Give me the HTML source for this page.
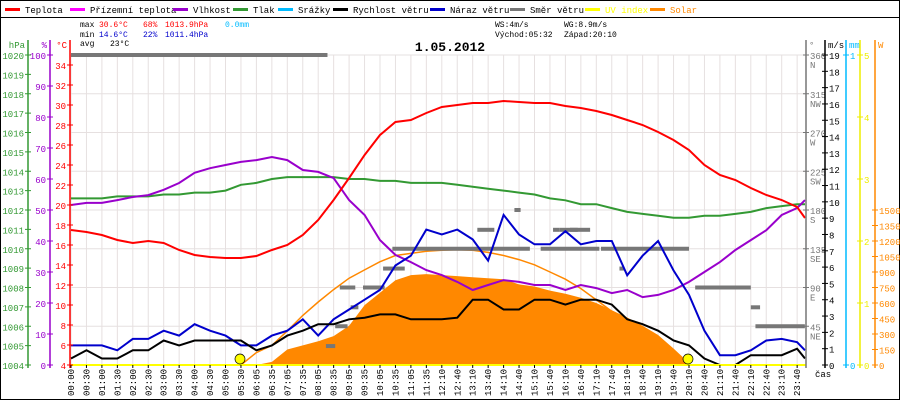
<!DOCTYPE html>
<html><head><meta charset="utf-8">
<style>
body{margin:0;background:#fff;}
svg{display:block;font-family:"Liberation Mono","DejaVu Sans Mono",monospace;font-size:8px;}
</style></head>
<body>
<svg id="c" width="900" height="400" viewBox="0 0 900 400">
<rect x="0.5" y="0.5" width="899" height="399" fill="#fff" stroke="#000"/>
<line x1="0" y1="17.5" x2="900" y2="17.5" stroke="#000"/>
<g id="legend"></g>
<g>
<text x="80" y="27" fill="#000">max</text><text x="99" y="27" fill="#f00">30.6°C</text><text x="143" y="27" fill="#f00">68%</text><text x="165" y="27" fill="#f00">1013.9hPa</text><text x="225" y="27" fill="#0bf">0.0mm</text>
<text x="80" y="37" fill="#000">min</text><text x="99" y="37" fill="#00c">14.6°C</text><text x="143" y="37" fill="#00c">22%</text><text x="165" y="37" fill="#00c">1011.4hPa</text>
<text x="80" y="46" fill="#000">avg</text><text x="110" y="46" fill="#000">23°C</text>
<text x="495" y="27" fill="#000">WS:4m/s</text><text x="564" y="27" fill="#000">WG:8.9m/s</text>
<text x="495" y="37" fill="#000">Východ:05:32</text><text x="564" y="37" fill="#000">Západ:20:10</text>
</g>
<text x="450" y="51" text-anchor="middle" font-weight="bold" font-size="13" fill="#000">1.05.2012</text>
<g id="grid"></g>
<g id="marks"></g>
<g id="axes"></g>
</svg>
<script>
const categories=["00:00","00:30","01:00","01:30","02:00","02:30","03:00","03:30","04:00","04:30","05:00","05:30","06:05","06:35","07:05","07:35","08:05","08:35","09:05","09:35","10:05","10:35","11:05","11:35","12:10","12:40","13:10","13:40","14:10","14:40","15:10","15:40","16:10","16:40","17:10","17:40","18:10","18:40","19:10","19:40","20:10","20:40","21:10","21:40","22:10","22:40","23:10","23:40","23:55"];
const temperature=[17.5,17.3,17.0,16.5,16.2,16.4,16.2,15.5,15.0,14.8,14.7,14.7,14.9,15.5,16.0,17.0,18.5,20.5,22.7,25.0,27.0,28.3,28.5,29.2,29.8,30.0,30.2,30.2,30.4,30.3,30.2,30.2,29.9,29.7,29.4,29.0,28.5,28.0,27.3,26.5,25.5,24.0,23.0,22.5,21.7,21.0,20.5,19.8,18.7];
const humidity=[51.6,52.3,52.3,53.2,54.2,54.8,56.5,58.7,62.0,63.5,64.5,65.5,66.1,67.1,66.1,62.9,62.3,60.3,53.2,48.4,40.3,35.5,33.2,30.6,29.0,26.8,24.2,25.8,27.4,26.8,25.8,25.8,24.2,25.8,24.8,23.2,24.2,21.9,22.6,24.2,26.8,30.0,33.2,37.1,40.3,43.5,48.4,50.6,53.2];
const pressure=[1012.6,1012.6,1012.6,1012.7,1012.7,1012.7,1012.8,1012.8,1012.9,1012.9,1013.0,1013.3,1013.4,1013.6,1013.7,1013.7,1013.7,1013.7,1013.6,1013.6,1013.5,1013.5,1013.4,1013.4,1013.4,1013.3,1013.2,1013.1,1013.0,1012.9,1012.8,1012.6,1012.5,1012.3,1012.3,1012.1,1011.9,1011.8,1011.7,1011.6,1011.6,1011.7,1011.7,1011.8,1011.9,1012.1,1012.2,1012.3,1012.3];
const windSpeed=[0.4,0.9,0.4,0.4,0.9,0.9,1.5,1.2,1.5,1.5,1.5,1.5,0.9,1.2,1.8,2.1,2.5,2.5,2.8,2.9,3.1,3.1,2.8,2.8,2.8,2.9,4.0,4.0,3.4,3.4,4.0,4.0,3.7,4.0,4.0,3.7,2.8,2.5,2.1,1.5,1.2,0.4,0,0,0.6,0.6,0.6,1.0,0.4];
const windGust=[1.2,1.2,1.2,0.9,1.6,1.6,2.1,1.8,2.5,2.1,1.8,1.2,1.2,1.8,2.1,2.8,1.8,2.8,3.4,4.0,4.6,6.1,6.7,8.3,8.0,8.3,7.7,6.4,9.2,8.0,7.4,7.4,8.2,7.4,7.6,7.6,5.5,6.7,7.6,5.8,4.3,2.1,0.6,0.6,0.9,1.5,1.6,1.4,0.9];
const solar=[0,0,0,0,0,0,0,0,0,0,0,0,0,30,150,190,230,280,380,580,700,820,870,880,870,860,850,840,830,780,760,720,690,650,600,530,460,380,290,160,20,0,0,0,0,0,0,0,0];
const solarMax=[0,0,0,0,0,0,0,0,0,0,0,0,120,190,330,480,610,730,840,920,1000,1060,1080,1100,1110,1115,1110,1090,1060,1020,970,900,830,740,630,520,400,290,180,80,0,0,0,0,0,0,0,0,0];
const dirStart=[0,16.5,17.1,18.1,17.4,18.9,20.2,20.8,26.3,28.7,31.2,32.3,30.4,34.3,31.6,35.5,40.4,44.0,44.3];
const dirEnd=[16.6,17.1,17.9,18.6,18.4,20.3,21.6,29.7,27.4,29.1,31.6,32.8,34.2,40.0,33.6,35.8,44.0,44.6,47.5];
const dirDeg=[360,22,45,67,90,90,112,135,157,180,157,157,135,135,157,112,90,67,45];
const tempTicks=[4,6,8,10,12,14,16,18,20,22,24,26,28,30,32,34];
const humTicks=[0,10,20,30,40,50,60,70,80,90,100];
const presTicks=[1004,1005,1006,1007,1008,1009,1010,1011,1012,1013,1014,1015,1016,1017,1018,1019,1020];
const speedTicks=[0,1,2,3,4,5,6,7,8,9,10,11,12,13,14,15,16,17,18,19];
const dirTicks=[45,90,135,180,225,270,315,360];
const dirNames=["NE","E","SE","S","SW","W","NW","N"];
const uvTicks=[0,1,2,3,4,5];
const solarTicks=[0,150,300,450,600,750,900,1050,1200,1350,1500];
const legendNames=["Teplota","Přízemní teplota","Vlhkost","Tlak","Srážky","Rychlost větru","Náraz větru","Směr větru","UV index","Solar"];
const legendColors=["#f00","#f0f","#90c","#393","#0bf","#000","#00c","#777","#ff0","#f80"];
const legendX=[5,70,173,233,278,333,430,510,585,650];

const NS="http://www.w3.org/2000/svg";
const X0=71,DX=15.45,Y0=365,Y1=55,H=Y0-Y1;
const xc=i=>i===48?805:X0+i*DX;
function yTemp(v){return Y0-(v-4)*10;}
function yHum(v){return Y0-v*3.1;}
function yPres(v){return Y0-(v-1004)*H/16;}
function ySpeed(v){return Y0-v*H/19;}
function yDir(v){return Y0-v*H/360;}
function yUV(v){return Y0-v*62;}
function ySolar(v){return Y0-v*155/1500;}
function el(tag,attrs,parent){const e=document.createElementNS(NS,tag);for(const k in attrs)e.setAttribute(k,attrs[k]);parent.appendChild(e);return e;}
const grid=document.getElementById('grid'),marks=document.getElementById('marks'),axes=document.getElementById('axes'),legend=document.getElementById('legend');

legendNames.forEach((n,i)=>{
  const g=el('g',{},legend);
  
  
  const lx=legendX[i];
  el('rect',{x:lx,y:8,width:15,height:3,fill:legendColors[i]},g);
  const t=el('text',{x:lx+20,y:13,fill:(i>=8?legendColors[i]:'#000'),'font-size':'9'},g);
  t.textContent=n;
});

for(let i=0;i<48;i++){
  const l=el('line',{x1:xc(i),y1:Y1,x2:xc(i),y2:Y0,stroke:'#e6e0e0'},grid);
  
  
}
dirTicks.forEach(d=>{
  const l=el('line',{x1:70,y1:yDir(d),x2:806,y2:yDir(d),stroke:'#e6e0e0'},grid);
  
  
});

function path(arr,yf,color,w,name){
  let d='';arr.forEach((v,i)=>{d+=(i?'L':'M')+xc(i).toFixed(1)+','+yf(v).toFixed(1);});
  const p=el('path',{d:d,fill:'none',stroke:color,'stroke-width':w},marks);
  
  
}
{
  let d='M'+xc(12)+','+Y0;
  for(let i=12;i<=40;i++)d+='L'+xc(i).toFixed(1)+','+ySolar(solar[i]).toFixed(1);
  d+='L'+xc(40)+','+Y0+'Z';
  const p=el('path',{d:d,fill:'#f80'},marks);
  
  
  let d2='';for(let i=11;i<=40;i++)d2+=(i>11?'L':'M')+xc(i).toFixed(1)+','+ySolar(solarMax[i]).toFixed(1);
  const p2=el('path',{d:d2,fill:'none',stroke:'#f80','stroke-width':1.5},marks);
  
  
}
dirDeg.forEach((deg,k)=>{
  const x1=xc(dirStart[k]),x2=xc(dirEnd[k]);
  const r=el('rect',{x:x1,y:yDir(deg)-2,width:Math.max(4,x2-x1),height:4,fill:'#777'},marks);
  
  
});
path(pressure,yPres,'#393',2,'pressure-line');
path(humidity,yHum,'#90c',2,'humidity-line');
path(temperature,yTemp,'#f00',2,'temperature-line');
path(windGust,ySpeed,'#00c',2,'wind-gust-line');
path(windSpeed,ySpeed,'#000',2,'wind-speed-line');
{
  const l=el('line',{x1:70,y1:Y0,x2:806,y2:Y0,stroke:'#ff0','stroke-width':2},marks);
  
  
  [240,688].forEach(x=>{
    const c=el('circle',{cx:x,cy:359,r:5,fill:'#ff0',stroke:'#000','stroke-width':0.7},marks);
    
    
  });
}
function vaxis(x,color,ticks,yf,side,title,name,extra){
  const g=el('g',{},axes);
  
  
  el('line',{x1:x,y1:40,x2:x,y2:Y0+3,stroke:color,'stroke-width':1.5},g);
  const tt=el('text',{x:side<0?x-3:x+3,y:48,fill:color,'text-anchor':side<0?'end':'start','font-size':'9'},g);tt.textContent=title;
  ticks.forEach((v,i)=>{
    const y=yf(v);
    el('line',{x1:x-3,y1:y,x2:x+3,y2:y,stroke:color},g);
    const t=el('text',{x:side<0?x-4:x+4,y:y+4,fill:color,'text-anchor':side<0?'end':'start','font-size':'9'},g);
    t.textContent=v;
    if(extra){const t2=el('text',{x:x+4,y:y+13,fill:color,'font-size':'9'},g);t2.textContent=extra[i];}
  });
}
vaxis(28,'#393',presTicks,yPres,-1,'hPa','pressure-axis');
vaxis(50,'#90c',humTicks,yHum,-1,'%','humidity-axis');
vaxis(70,'#f00',tempTicks,yTemp,-1,'°C','temperature-axis');
vaxis(806,'#777',dirTicks,yDir,1,'°','direction-axis',dirNames);
vaxis(825,'#000',speedTicks,ySpeed,1,'m/s','speed-axis');
vaxis(846,'#0bf',[0,1],v=>Y0-v*H,1,'mm','rain-axis');
vaxis(860,'#ee0',uvTicks,yUV,1,'','uv-axis');
vaxis(875,'#f80',solarTicks,ySolar,1,'W','solar-axis');
{
  const t=el('text',{x:815,y:377,fill:'#000','font-size':'9'},axes);t.textContent='čas';
  
  
}
for(let i=0;i<48;i++){
  el('line',{x1:xc(i),y1:Y0,x2:xc(i),y2:Y0+3,stroke:'#000'},axes);
  const t=el('text',{x:0,y:0,transform:'translate('+(xc(i)+3)+',396) rotate(-90)',fill:'#000','font-size':'9'},axes);
  t.textContent=categories[i];
  
  
}
</script>
</body></html>
